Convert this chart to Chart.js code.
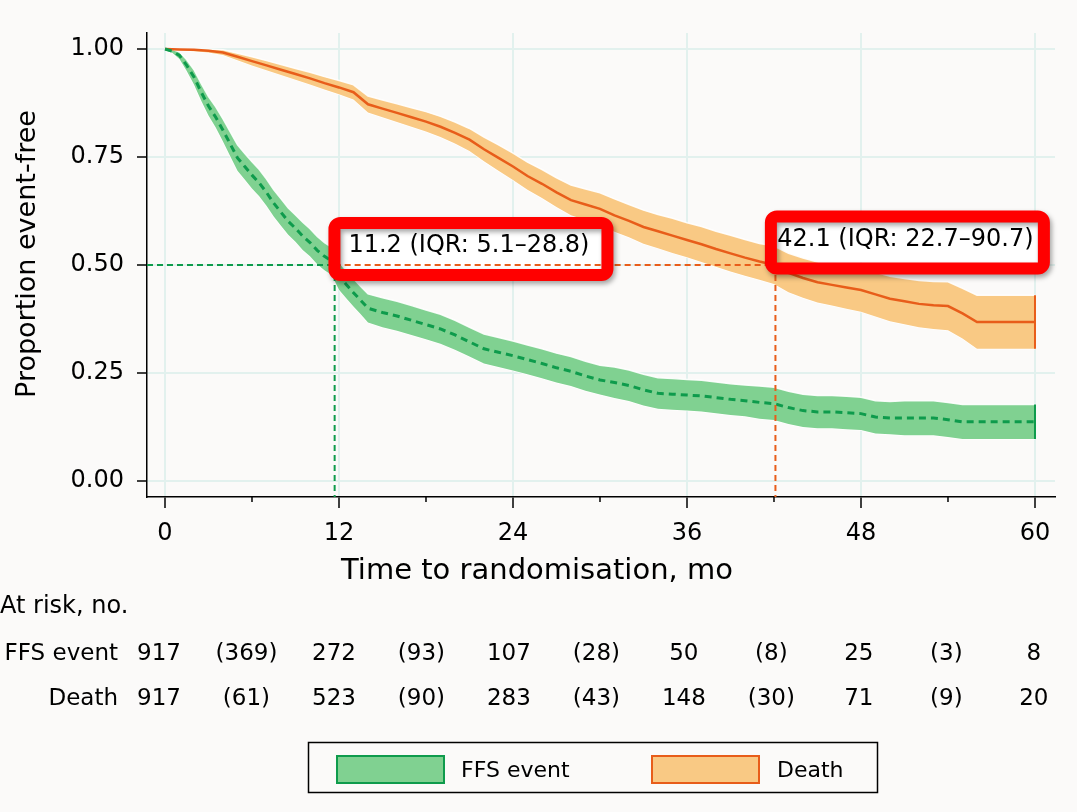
<!DOCTYPE html>
<html>
<head>
<meta charset="utf-8">
<title>Kaplan-Meier</title>
<script src="https://cdn.jsdelivr.net/npm/chart.js@4.4.1/dist/chart.umd.min.js"></script>
<style>
  html, body { margin: 0; padding: 0; background: #fbfaf9; }
  canvas { display: block; }
</style>
</head>
<body>
<canvas id="km" width="1077" height="812"></canvas>
<script>
// FFS event curve (months, proportion event-free) + 95% band
const ffsTimes = [0, 0.5, 1, 1.5, 2, 2.5, 3, 3.5, 4, 4.5, 5, 5.5, 6, 6.5, 7, 7.5, 8, 8.5, 9, 9.5, 10, 10.5, 11, 11.5, 12, 12.5, 13, 13.5, 14,
  15, 16, 17, 18, 19, 20, 21, 22, 23, 24, 25, 26, 27, 28, 29, 30, 31, 32, 33, 34, 35, 36, 37, 38, 39, 40,
  41, 42, 43, 44, 45, 46, 47, 48, 49, 50, 51, 52, 53, 54, 55, 56, 57, 58, 59, 60];
const ffsSurv = [1.000, 0.995, 0.985, 0.962, 0.935, 0.900, 0.868, 0.842, 0.812, 0.780, 0.748, 0.728, 0.708, 0.690, 0.668, 0.643, 0.622, 0.601, 0.585, 0.567, 0.552, 0.534, 0.520, 0.509, 0.475, 0.455, 0.436, 0.418, 0.400,
  0.390, 0.382, 0.372, 0.362, 0.352, 0.338, 0.322, 0.306, 0.298, 0.290,
  0.281, 0.272, 0.262, 0.254, 0.243, 0.234, 0.228, 0.221, 0.211, 0.203,
  0.201, 0.199, 0.197, 0.193, 0.189, 0.186, 0.182, 0.179, 0.170, 0.163,
  0.160, 0.160, 0.158, 0.156, 0.148, 0.146, 0.146, 0.146, 0.146, 0.142,
  0.137, 0.137, 0.137, 0.137, 0.137, 0.137];
const ffsUpper = [1.000, 0.999, 0.993, 0.975, 0.952, 0.920, 0.890, 0.866, 0.838, 0.808, 0.778, 0.758, 0.739, 0.721, 0.699, 0.674, 0.653, 0.632, 0.616, 0.599, 0.584, 0.566, 0.552, 0.541, 0.507, 0.487, 0.468, 0.450, 0.433,
  0.424, 0.416, 0.406, 0.396, 0.386, 0.372, 0.356, 0.340, 0.332, 0.324,
  0.315, 0.306, 0.296, 0.288, 0.277, 0.268, 0.264, 0.257, 0.247, 0.239,
  0.237, 0.235, 0.233, 0.229, 0.225, 0.222, 0.220, 0.217, 0.208, 0.201,
  0.198, 0.198, 0.196, 0.194, 0.186, 0.184, 0.186, 0.186, 0.186, 0.182,
  0.177, 0.177, 0.177, 0.177, 0.177, 0.177];
const ffsLower = [0.997, 0.991, 0.977, 0.949, 0.918, 0.880, 0.846, 0.818, 0.786, 0.752, 0.718, 0.698, 0.677, 0.659, 0.637, 0.612, 0.591, 0.570, 0.554, 0.535, 0.520, 0.502, 0.488, 0.477, 0.443, 0.423, 0.404, 0.386, 0.367,
  0.356, 0.348, 0.338, 0.328, 0.318, 0.304, 0.288, 0.272, 0.264, 0.256,
  0.247, 0.238, 0.228, 0.220, 0.209, 0.200, 0.192, 0.185, 0.175, 0.167,
  0.165, 0.163, 0.161, 0.157, 0.153, 0.150, 0.144, 0.141, 0.132, 0.125,
  0.122, 0.122, 0.120, 0.118, 0.110, 0.108, 0.106, 0.106, 0.106, 0.102,
  0.097, 0.097, 0.097, 0.097, 0.097, 0.097];

// Death curve
const deathTimes = [0, 1, 2, 3, 4, 5, 6, 7, 8, 9, 10, 11, 12, 13, 14, 15, 16, 17, 18, 19, 20,
  21, 22, 23, 24, 25, 26, 27, 28, 29, 30, 31, 32, 33, 34, 35, 36, 37, 38, 39, 40,
  41, 42, 43, 44, 45, 46, 47, 48, 49, 50, 51, 52, 53, 54, 55, 56, 57, 58, 59, 60];
const deathSurv = [1.000, 0.999, 0.998, 0.996, 0.992, 0.982, 0.972, 0.962, 0.952, 0.942,
  0.932, 0.921, 0.911, 0.900, 0.872, 0.862, 0.852, 0.842, 0.832, 0.820,
  0.806, 0.790, 0.768, 0.748, 0.728, 0.706, 0.688, 0.668, 0.650, 0.640,
  0.630, 0.615, 0.602, 0.588, 0.578, 0.568, 0.558, 0.548, 0.537, 0.527,
  0.517, 0.508, 0.500, 0.482, 0.470, 0.460, 0.454, 0.448, 0.442, 0.432,
  0.422, 0.416, 0.410, 0.407, 0.405, 0.388, 0.368, 0.368, 0.368, 0.368,
  0.368];
const deathUpper = [1.000, 1.000, 1.000, 1.000, 0.998, 0.990, 0.982, 0.973, 0.964, 0.955,
  0.946, 0.936, 0.927, 0.917, 0.891, 0.882, 0.873, 0.864, 0.855, 0.844,
  0.831, 0.816, 0.796, 0.778, 0.759, 0.738, 0.721, 0.702, 0.685, 0.676,
  0.667, 0.653, 0.640, 0.627, 0.617, 0.608, 0.598, 0.589, 0.578, 0.569,
  0.559, 0.550, 0.544, 0.527, 0.516, 0.507, 0.502, 0.497, 0.492, 0.483,
  0.474, 0.469, 0.464, 0.462, 0.461, 0.446, 0.430, 0.430, 0.430, 0.430,
  0.430];
const deathLower = [0.998, 0.997, 0.995, 0.992, 0.986, 0.974, 0.962, 0.951, 0.940, 0.929,
  0.918, 0.906, 0.895, 0.883, 0.853, 0.842, 0.831, 0.820, 0.809, 0.796,
  0.781, 0.764, 0.740, 0.718, 0.697, 0.674, 0.655, 0.634, 0.615, 0.604,
  0.593, 0.577, 0.564, 0.549, 0.539, 0.528, 0.518, 0.507, 0.496, 0.485,
  0.475, 0.466, 0.456, 0.437, 0.424, 0.413, 0.406, 0.399, 0.392, 0.381,
  0.370, 0.363, 0.356, 0.352, 0.349, 0.330, 0.306, 0.306, 0.306, 0.306,
  0.306];

const seriesNames = ['FFS event', 'Death'];
const xTicks = [0, 6, 12, 18, 24, 30, 36, 42, 48, 54, 60];
const yTicks = [0, 0.25, 0.5, 0.75, 1];

// numbers at risk (plain) and events in interval (brackets)
const riskTimes = [0, 6, 12, 18, 24, 30, 36, 42, 48, 54, 60];
const ffsRisk = ['917', '(369)', '272', '(93)', '107', '(28)', '50', '(8)', '25', '(3)', '8'];
const deathRisk = ['917', '(61)', '523', '(90)', '283', '(43)', '148', '(30)', '71', '(9)', '20'];

// where each curve crosses 0.5, and the label text
const medianTimes = [11.7, 42.1];
const medianLabels = ['11.2 (IQR: 5.1\u201328.8)', '42.1 (IQR: 22.7\u201390.7)'];
const labelAt = [[21.1, 0.537], [51.2, 0.552]];

const FONT = '"DejaVu Sans", Verdana, sans-serif';
const GREEN = '#0e9b4c', GREEN_FILL = '#80d191';
const ORANGE = '#e85d1a', ORANGE_FILL = '#f9c984';
const GRID = '#e2f1ee';
const BG = '#fbfaf9';
const EDGE = 'rgba(255,255,255,0.9)';

const pts = (ts, vs) => ts.map((t, i) => ({x: t, y: vs[i]}));
const last = a => a[a.length - 1];

const BOX_W = 285, BOX_H = 64, BOX_LW = 12;

function labelBoxes(chart) {
  const xs = chart.scales.x, ys = chart.scales.y;
  return labelAt.map((p, i) => {
    const cx = xs.getPixelForValue(p[0]), cy = ys.getPixelForValue(p[1]);
    return {x: cx - BOX_W / 2, y: cy - BOX_H / 2, cx, cy, text: medianLabels[i]};
  });
}

const extras = {
  id: 'extras',
  beforeDraw(chart) {
    const c = chart.ctx;
    c.save();
    c.fillStyle = BG;
    c.fillRect(0, 0, chart.width, chart.height);
    c.restore();
  },
  beforeDatasetsDraw(chart) {
    // white label backgrounds (curves run over them)
    const c = chart.ctx;
    c.save();
    c.fillStyle = '#ffffff';
    labelBoxes(chart).forEach(b => {
      c.fillRect(b.x + 13, b.y + 12, BOX_W - 26, BOX_H - 24);
    });
    c.restore();
  },
  afterDatasetsDraw(chart) {
    const c = chart.ctx, xs = chart.scales.x, ys = chart.scales.y, area = chart.chartArea;
    const yHalf = ys.getPixelForValue(0.5);
    const m0 = xs.getPixelForValue(medianTimes[0]);
    const m1 = xs.getPixelForValue(medianTimes[1]);

    c.save();
    c.lineWidth = 2;
    c.setLineDash([6, 4]);
    c.strokeStyle = GREEN;
    c.beginPath();
    c.moveTo(area.left, yHalf); c.lineTo(m0, yHalf);
    c.moveTo(m0, yHalf); c.lineTo(m0, area.bottom);
    c.stroke();
    c.strokeStyle = ORANGE;
    c.beginPath();
    c.moveTo(m0, yHalf); c.lineTo(m1, yHalf);
    c.moveTo(m1, yHalf); c.lineTo(m1, area.bottom);
    c.stroke();
    c.restore();

    // red label frames
    labelBoxes(chart).forEach(b => {
      c.save();
      c.shadowColor = 'rgba(0,0,0,0.35)';
      c.shadowBlur = 5;
      c.shadowOffsetX = 2;
      c.shadowOffsetY = 3;
      c.strokeStyle = '#ff0000';
      c.lineWidth = BOX_LW;
      c.beginPath();
      c.roundRect(b.x + BOX_LW / 2, b.y + BOX_LW / 2, BOX_W - BOX_LW, BOX_H - BOX_LW, 6);
      c.stroke();
      c.restore();
      c.save();
      c.font = '24px ' + FONT;
      c.fillStyle = '#000';
      c.textAlign = 'center';
      c.textBaseline = 'middle';
      c.fillText(b.text, b.cx - 2, b.cy - 3);
      c.restore();
    });
  },
  afterDraw(chart) {
    const c = chart.ctx, xs = chart.scales.x, area = chart.chartArea;
    c.save();
    // short minor ticks
    c.strokeStyle = '#000';
    c.lineWidth = 1.5;
    xTicks.filter(t => t % 12 !== 0).forEach(t => {
      const px = xs.getPixelForValue(t);
      c.beginPath();
      c.moveTo(px, area.bottom);
      c.lineTo(px, area.bottom + 5);
      c.stroke();
    });

    c.fillStyle = '#000';
    // axis titles
    c.font = '29px ' + FONT;
    c.textAlign = 'center';
    c.textBaseline = 'middle';
    c.fillText('Time to randomisation, mo', 537, 571);
    c.save();
    c.translate(28, 254);
    c.rotate(-Math.PI / 2);
    c.font = '27px ' + FONT;
    c.fillText('Proportion event-free', 0, 0);
    c.restore();

    // at-risk table
    c.font = '24px ' + FONT;
    c.textAlign = 'left';
    c.fillText('At risk, no.', 0, 607);
    c.font = '23px ' + FONT;
    c.textAlign = 'right';
    c.fillText(seriesNames[0], 118, 654);
    c.fillText(seriesNames[1], 118, 699);
    c.textAlign = 'center';
    riskTimes.forEach((t, i) => {
      const px = xs.getPixelForValue(t) - 6 + t * 0.08;
      c.fillText(ffsRisk[i], px, 654);
      c.fillText(deathRisk[i], px, 699);
    });

    // legend
    c.strokeStyle = '#000';
    c.lineWidth = 1.5;
    c.strokeRect(308.5, 742.5, 569, 50);
    c.lineWidth = 2;
    c.fillStyle = GREEN_FILL;
    c.fillRect(337, 756, 107, 27);
    c.strokeStyle = GREEN;
    c.strokeRect(337, 756, 107, 27);
    c.fillStyle = ORANGE_FILL;
    c.fillRect(652, 756, 107, 27);
    c.strokeStyle = ORANGE;
    c.strokeRect(652, 756, 107, 27);
    c.fillStyle = '#000';
    c.font = '22px ' + FONT;
    c.textAlign = 'left';
    c.fillText(seriesNames[0], 461, 771);
    c.fillText(seriesNames[1], 777, 771);
    c.restore();
  }
};

const ctx = document.getElementById('km').getContext('2d');
new Chart(ctx, {
  type: 'line',
  data: {
    datasets: [
      {label: seriesNames[0], data: pts(ffsTimes, ffsSurv), borderColor: GREEN, borderWidth: 3,
        borderDash: [7, 5], fill: false, pointRadius: 0},
      {label: seriesNames[1], data: pts(deathTimes, deathSurv), borderColor: ORANGE, borderWidth: 2.5,
        fill: false, pointRadius: 0},
      {label: 'ffs end', data: [{x: last(ffsTimes), y: last(ffsUpper)}, {x: last(ffsTimes), y: last(ffsLower)}],
        borderColor: GREEN, borderWidth: 2, fill: false, pointRadius: 0},
      {label: 'death end', data: [{x: last(deathTimes), y: last(deathUpper)}, {x: last(deathTimes), y: last(deathLower)}],
        borderColor: ORANGE, borderWidth: 2, fill: false, pointRadius: 0},
      {label: 'ffs upper', data: pts(ffsTimes, ffsUpper), borderColor: EDGE, borderWidth: 1.5,
        backgroundColor: GREEN_FILL, fill: '+1', pointRadius: 0},
      {label: 'ffs lower', data: pts(ffsTimes, ffsLower), borderColor: EDGE, borderWidth: 1.5,
        fill: false, pointRadius: 0},
      {label: 'death upper', data: pts(deathTimes, deathUpper), borderColor: EDGE, borderWidth: 1.5,
        backgroundColor: ORANGE_FILL, fill: '+1', pointRadius: 0},
      {label: 'death lower', data: pts(deathTimes, deathLower), borderColor: EDGE, borderWidth: 1.5,
        fill: false, pointRadius: 0}
    ]
  },
  options: {
    responsive: false,
    animation: false,
    devicePixelRatio: 1,
    layout: {padding: {left: 0, top: 33, right: 22, bottom: 0}},
    plugins: {legend: {display: false}, tooltip: {enabled: false}},
    scales: {
      x: {
        type: 'linear',
        min: -1.241,
        max: 61.38,
        afterBuildTicks: s => { s.ticks = xTicks.map(v => ({value: v})); },
        afterFit: s => { s.height = 315; },
        grid: {
          color: c => (c.tick && c.tick.value % 12 === 0) ? GRID : 'rgba(0,0,0,0)',
          lineWidth: 2,
          tickLength: 11,
          tickWidth: 1.5,
          tickColor: c => (c.tick && c.tick.value % 12 === 0) ? '#000' : 'rgba(0,0,0,0)'
        },
        border: {color: '#000', width: 1.5},
        ticks: {
          autoSkip: false, maxRotation: 0, padding: 11, color: '#000',
          font: {family: FONT, size: 24},
          callback: v => (v % 12 === 0 ? String(v) : '')
        }
      },
      y: {
        min: -0.037,
        max: 1.037,
        afterBuildTicks: s => { s.ticks = yTicks.map(v => ({value: v})); },
        afterFit: s => { s.width = 147; },
        grid: {color: GRID, lineWidth: 2, tickLength: 10, tickWidth: 1.5, tickColor: '#000'},
        border: {color: '#000', width: 1.5},
        ticks: {
          padding: 13, color: '#000',
          font: {family: FONT, size: 24},
          callback: v => Number(v).toFixed(2)
        }
      }
    }
  },
  plugins: [extras]
});
</script>
</body>
</html>
